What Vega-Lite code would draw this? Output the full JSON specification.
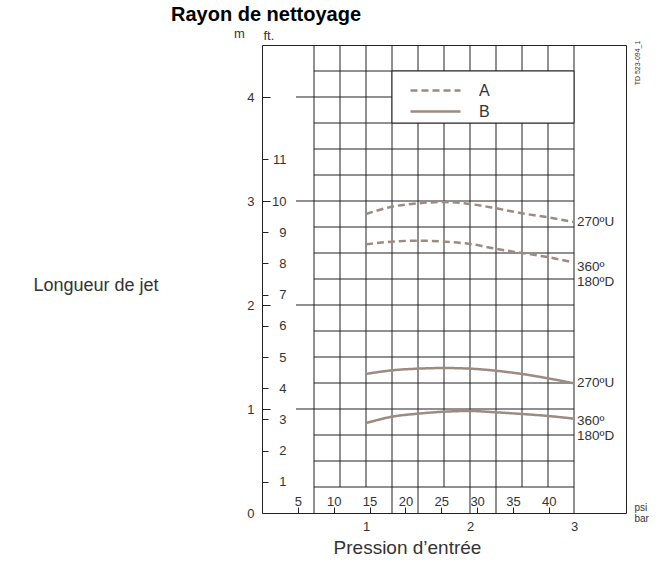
{
  "$schema": "https://vega.github.io/schema/vega-lite/v6.json",
  "width": 364,
  "height": 468,
  "autosize": {"type": "none"},
  "padding": {"left": 262, "top": 45, "right": 34, "bottom": 51},
  "title": {"text": "Rayon de nettoyage", "anchor": "start", "frame": "group", "dx": -91, "dy": 20, "fontSize": 20, "fontWeight": "bold", "color": "#000", "font": "Liberation Sans", "baseline": "alphabetic", "offset": 7},
  "datasets": {
    "vgrid": [{"bar": 0.5}, {"bar": 0.75}, {"bar": 1}, {"bar": 1.25}, {"bar": 1.5}, {"bar": 1.75}, {"bar": 2}, {"bar": 2.25}, {"bar": 2.5}, {"bar": 2.75}, {"bar": 3}],
    "vgridlow": [{"bar": 0.5}, {"bar": 1.25}, {"bar": 1.5}, {"bar": 2}, {"bar": 2.25}, {"bar": 3}],
    "hgrid": [{"m": 0.25}, {"m": 0.5}, {"m": 0.75}, {"m": 1.25}, {"m": 1.5}, {"m": 1.75}, {"m": 2.25}, {"m": 2.5}, {"m": 2.75}, {"m": 3.25}, {"m": 3.5}, {"m": 3.75}, {"m": 4.25}],
    "mlines": [{"m": 1}, {"m": 2}, {"m": 3}, {"m": 4}],
    "curves": [
      {"serie": "A", "angle": "270U", "bar": 1.0, "m": 2.875},
      {"serie": "A", "angle": "270U", "bar": 1.25, "m": 2.945},
      {"serie": "A", "angle": "270U", "bar": 1.5, "m": 2.978},
      {"serie": "A", "angle": "270U", "bar": 1.75, "m": 2.99},
      {"serie": "A", "angle": "270U", "bar": 2.0, "m": 2.971},
      {"serie": "A", "angle": "270U", "bar": 2.25, "m": 2.93},
      {"serie": "A", "angle": "270U", "bar": 2.5, "m": 2.882},
      {"serie": "A", "angle": "270U", "bar": 2.75, "m": 2.843},
      {"serie": "A", "angle": "270U", "bar": 3.0, "m": 2.798},
      {"serie": "A", "angle": "360/180D", "bar": 1.0, "m": 2.583},
      {"serie": "A", "angle": "360/180D", "bar": 1.25, "m": 2.609},
      {"serie": "A", "angle": "360/180D", "bar": 1.5, "m": 2.619},
      {"serie": "A", "angle": "360/180D", "bar": 1.75, "m": 2.609},
      {"serie": "A", "angle": "360/180D", "bar": 2.0, "m": 2.587},
      {"serie": "A", "angle": "360/180D", "bar": 2.25, "m": 2.54},
      {"serie": "A", "angle": "360/180D", "bar": 2.5, "m": 2.5},
      {"serie": "A", "angle": "360/180D", "bar": 2.75, "m": 2.46},
      {"serie": "A", "angle": "360/180D", "bar": 3.0, "m": 2.407},
      {"serie": "B", "angle": "270U", "bar": 1.0, "m": 1.337},
      {"serie": "B", "angle": "270U", "bar": 1.25, "m": 1.372},
      {"serie": "B", "angle": "270U", "bar": 1.5, "m": 1.388},
      {"serie": "B", "angle": "270U", "bar": 1.75, "m": 1.394},
      {"serie": "B", "angle": "270U", "bar": 2.0, "m": 1.388},
      {"serie": "B", "angle": "270U", "bar": 2.25, "m": 1.368},
      {"serie": "B", "angle": "270U", "bar": 2.5, "m": 1.337},
      {"serie": "B", "angle": "270U", "bar": 2.75, "m": 1.295},
      {"serie": "B", "angle": "270U", "bar": 3.0, "m": 1.247},
      {"serie": "B", "angle": "360/180D", "bar": 1.0, "m": 0.865},
      {"serie": "B", "angle": "360/180D", "bar": 1.25, "m": 0.926},
      {"serie": "B", "angle": "360/180D", "bar": 1.5, "m": 0.955},
      {"serie": "B", "angle": "360/180D", "bar": 1.75, "m": 0.974},
      {"serie": "B", "angle": "360/180D", "bar": 2.0, "m": 0.981},
      {"serie": "B", "angle": "360/180D", "bar": 2.25, "m": 0.968},
      {"serie": "B", "angle": "360/180D", "bar": 2.5, "m": 0.952},
      {"serie": "B", "angle": "360/180D", "bar": 2.75, "m": 0.933},
      {"serie": "B", "angle": "360/180D", "bar": 3.0, "m": 0.907}
    ],
    "endlabels": [
      {"bar": 3.0, "m": 2.798, "label": "270ºU"},
      {"bar": 3.0, "m": 2.37, "label": "360º\n180ºD"},
      {"bar": 3.0, "m": 1.247, "label": "270ºU"},
      {"bar": 3.0, "m": 0.885, "label": "360º\n180ºD"}
    ],
    "psi": [{"psi": 5}, {"psi": 10}, {"psi": 15}, {"psi": 20}, {"psi": 25}, {"psi": 30}, {"psi": 35}, {"psi": 40}],
    "ft": [{"ft": 1}, {"ft": 2}, {"ft": 3}, {"ft": 4}, {"ft": 5}, {"ft": 6}, {"ft": 7}, {"ft": 8}, {"ft": 9}, {"ft": 10}, {"ft": 11}]
  },
  "layer": [
    {
      "layer": [
        {
          "data": {"name": "vgrid"},
          "mark": {"type": "rule", "color": "#222", "strokeWidth": 1},
          "encoding": {
            "x": {"field": "bar", "type": "quantitative"},
            "y": {"datum": 0.25, "type": "quantitative"},
            "y2": {"datum": 4.5}
          }
        },
        {
          "data": {"name": "vgridlow"},
          "mark": {"type": "rule", "color": "#222", "strokeWidth": 1},
          "encoding": {
            "x": {"field": "bar", "type": "quantitative"},
            "y": {"datum": 0, "type": "quantitative"},
            "y2": {"datum": 0.25}
          }
        },
        {
          "data": {"name": "hgrid"},
          "mark": {"type": "rule", "color": "#222", "strokeWidth": 1},
          "encoding": {
            "y": {"field": "m", "type": "quantitative"},
            "x": {"datum": 0.5, "type": "quantitative"},
            "x2": {"datum": 3.0}
          }
        },
        {
          "data": {"name": "mlines"},
          "mark": {"type": "rule", "color": "#222", "strokeWidth": 1},
          "encoding": {
            "y": {"field": "m", "type": "quantitative"},
            "x": {"datum": 0.327, "type": "quantitative"},
            "x2": {"datum": 3.0}
          }
        },
        {
          "data": {"values": [{"box": "legend"}]},
          "mark": {"type": "rect", "fill": "#fff", "stroke": "#222", "strokeWidth": 1},
          "encoding": {
            "x": {"datum": 1.25, "type": "quantitative"},
            "x2": {"datum": 3.0},
            "y": {"datum": 3.75, "type": "quantitative"},
            "y2": {"datum": 4.25}
          }
        },
        {
          "data": {"name": "curves"},
          "mark": {"type": "line", "color": "#9c8a83", "strokeWidth": 2.5, "interpolate": "monotone"},
          "encoding": {
            "x": {
              "field": "bar", "type": "quantitative",
              "scale": {"domain": [0, 3.5], "nice": false, "zero": true},
              "axis": {
                "values": [1, 2, 3], "grid": false, "ticks": false, "domain": false,
                "format": "d", "labelPadding": 7,
                "title": "Pression  d’entrée", "titleFontSize": 19, "titleX": 145, "titleY": 40,
                "titleAlign": "center", "titleBaseline": "alphabetic"
              }
            },
            "y": {
              "field": "m", "type": "quantitative",
              "scale": {"domain": [0, 4.5], "nice": false, "zero": true},
              "axis": {
                "values": [0, 1, 2, 3, 4], "grid": false, "domain": false,
                "tickSize": -8, "tickColor": "#222", "labelPadding": 16, "format": "d",
                "title": "Longueur de jet", "titleAngle": 0, "titleAlign": "right",
                "titleBaseline": "alphabetic", "titleX": -104, "titleY": 245, "titleFontSize": 18
              }
            },
            "detail": {"field": "angle"},
            "strokeDash": {
              "field": "serie", "type": "nominal",
              "scale": {"domain": ["A", "B"], "range": [[7, 4], [1, 0]]},
              "legend": {
                "title": null, "orient": "none", "legendX": 162, "legendY": 34,
                "symbolType": "M-2.5,0H2.5", "symbolSize": 400, "symbolStrokeWidth": 2.5,
                "symbolStrokeColor": "#9c8a83", "labelFontSize": 16, "labelOffset": 32,
                "labelColor": "#333", "padding": 0, "rowPadding": 1
              }
            }
          }
        },
        {
          "data": {"name": "endlabels"},
          "mark": {"type": "text", "align": "left", "baseline": "middle", "dx": 3, "fontSize": 13.5, "lineBreak": "\n", "lineHeight": 15.5, "color": "#333"},
          "encoding": {
            "x": {"field": "bar", "type": "quantitative"},
            "y": {"field": "m", "type": "quantitative"},
            "text": {"field": "label"}
          }
        },
        {
          "data": {"values": [{"unit": "m"}]},
          "mark": {"type": "text", "align": "center", "baseline": "alphabetic", "fontSize": 13, "color": "#333"},
          "encoding": {
            "x": {"datum": -0.216, "type": "quantitative"},
            "y": {"datum": 4.567, "type": "quantitative"},
            "text": {"field": "unit"}
          }
        },
        {
          "data": {"values": [{"ref": "TD 523-094_1"}]},
          "mark": {"type": "text", "align": "center", "baseline": "middle", "angle": 270, "fontSize": 7, "color": "#333"},
          "encoding": {
            "x": {"datum": 3.62, "type": "quantitative"},
            "y": {"datum": 4.327, "type": "quantitative"},
            "text": {"field": "ref"}
          }
        }
      ]
    },
    {
      "data": {"name": "psi"},
      "mark": {"type": "rule", "opacity": 0},
      "encoding": {
        "x": {
          "field": "psi", "type": "quantitative",
          "scale": {"domain": [0, 50.763], "nice": false, "zero": true},
          "axis": {
            "orient": "bottom", "values": [5, 10, 15, 20, 25, 30, 35, 40], "grid": false, "domain": false,
            "tickSize": -6, "tickColor": "#222", "labelPadding": -2, "labelBaseline": "alphabetic",
            "format": "d",
            "title": ["psi", "bar"], "titleFontSize": 10, "titleLineHeight": 11,
            "titleX": 372, "titleY": -3, "titleAlign": "left", "titleBaseline": "alphabetic"
          }
        }
      }
    },
    {
      "data": {"name": "ft"},
      "mark": {"type": "rule", "opacity": 0},
      "encoding": {
        "y": {
          "field": "ft", "type": "quantitative",
          "scale": {"domain": [0, 10, 11], "range": [468, 156, 114], "nice": false, "zero": false},
          "axis": {
            "orient": "left", "values": [1, 2, 3, 4, 5, 6, 7, 8, 9, 10, 11], "grid": false, "domain": false,
            "tickSize": -6, "tickColor": "#222", "labelPadding": -18, "labelAlign": "right",
            "format": "d",
            "title": "ft.", "titleAngle": 0, "titleX": 1, "titleY": -6, "titleAlign": "left",
            "titleBaseline": "alphabetic", "titleFontSize": 13
          }
        }
      }
    }
  ],
  "resolve": {"scale": {"x": "independent", "y": "independent"}},
  "config": {
    "view": {"stroke": "#222", "strokeWidth": 1},
    "font": "Liberation Sans",
    "axis": {"labelFont": "Liberation Sans", "titleFont": "Liberation Sans", "labelColor": "#333", "titleColor": "#333", "titleFontWeight": "normal", "tickWidth": 1, "labelFontSize": 13},
    "legend": {"labelFont": "Liberation Sans"},
    "text": {"font": "Liberation Sans"}
  }
}
